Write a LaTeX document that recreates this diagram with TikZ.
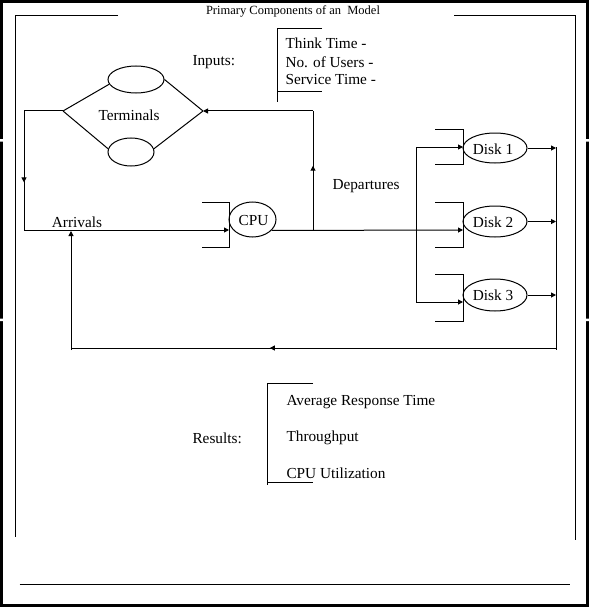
\documentclass[tikz,border=0pt]{standalone}
\usepackage{fontspec}
\setmainfont{Liberation Serif}
\usetikzlibrary{arrows.meta,shapes.geometric,decorations.markings}
\begin{document}
\begin{tikzpicture}[x=1pt,y=-1pt,line width=1pt,
  tip/.style={-{Triangle[length=5pt,width=5pt]}},
  ell/.style={draw,ellipse,inner sep=0pt},
  txt/.style={font=\fontsize{15.3}{18}\selectfont,inner sep=0pt},
  midarrow/.style={postaction={decorate},decoration={markings,mark=at position #1 with {\arrow{Triangle[length=5pt,width=5pt]}}}}]
\useasboundingbox (0,0) rectangle (589,607);
% outer frame
\draw[line width=3pt] (1.5,1.5) rectangle (587.5,605.5);
\fill[white] (0,139) rectangle (3,141.5) (0,318.5) rectangle (3,321);
\fill[white] (586,139) rectangle (589,141.5) (586,318.5) rectangle (589,321);
% inner frame
\draw (118,16) -- (15.5,16) -- (15.5,537);
\draw (454,16) -- (575.5,16) -- (575.5,540);
\draw (19.5,584) -- (570,584);
\node[inner sep=0pt,font=\fontsize{12.5}{14}\selectfont] (title) at (293,11.5) {Primary Components of an\ \ Model};
% inputs
\node[txt,anchor=west] (inputs) at (192,62) {Inputs:};
\draw (322,29) -- (277,29) -- (277,102.5);
\draw (277,92) -- (322,92);
\node[txt,anchor=west] (in1) at (285,43.5) {Think Time -};
\node[txt,anchor=west] (in2) at (285,62) {No. of Users -};
\node[txt,anchor=west] (in3) at (285,80) {Service Time -};
% terminals
\node[ell,minimum width=56pt,minimum height=27pt] (t1) at (136,79.5) {};
\node[ell,minimum width=46pt,minimum height=28pt] (t2) at (131,152) {};
\coordinate (dl) at (63,111);
\coordinate (dr) at (203,111);
\draw (dl) -- (t1.190);
\draw (t1.east) -- (dr);
\draw (dl) -- (t2.172);
\draw (t2.8) -- (dr);
\node[txt] (term) at (129,115) {Terminals};
% CPU
\node[ell,minimum width=47pt,minimum height=35pt] (cpu) at (252.5,219.5) {};
\node[txt] (cpul) at (253.5,220.5) {CPU};
\draw (202,202) -- (229,202) -- (229,247) -- (202,247);
\coordinate (cpuin) at (229,230);
\coordinate (lc1) at (24,111);
\coordinate (lc2) at (24,230);
\draw (dl) -- (lc1);
\draw[midarrow=0.6] (lc1) -- (lc2);
\draw[tip] (lc2) -- (cpuin);
\node[txt] (arr) at (77,222) {Arrivals};
% departures
\coordinate (dep0) at (313,230);
\coordinate (dep1) at (313,111);
\draw[midarrow=0.54] (dep0) -- (dep1);
\draw[tip] (dep1) -- (dr);
\node[txt,anchor=west] (deptxt) at (332,186) {Departures};
% disks
\node[ell,minimum width=64pt,minimum height=30pt] (d1) at (495,148) {};
\node[ell,minimum width=64pt,minimum height=31pt] (d2) at (495,221.5) {};
\node[ell,minimum width=64pt,minimum height=32pt] (d3) at (495,295) {};
\node[txt] (d1l) at (493,149) {Disk 1};
\node[txt] (d2l) at (493,222) {Disk 2};
\node[txt] (d3l) at (493,295.5) {Disk 3};
\draw (435,129) -- (463,129) -- (463,164) -- (435,164);
\draw (435,202) -- (463,202) -- (463,247) -- (435,247);
\draw (435,274) -- (463,274) -- (463,321) -- (435,321);
\coordinate (b1) at (416,147);
\coordinate (b3) at (416,302);
\draw (b1) -- (b3);
\draw[tip] (b1) -- (463,147);
\draw[tip] (b3) -- (463,302);
\draw[tip] (cpu.-30) -- (463,230);
% outputs
\coordinate (r1) at (556,147);
\coordinate (r2) at (556,348);
\draw[tip] (d1.east) -- (d1.east -| r1);
\draw[tip] (d2.east) -- (d2.east -| r1);
\draw[tip] (d3.east) -- (d3.east -| r1);
\draw (r1) -- (556,350);
\coordinate (l2) at (71,348);
\draw[midarrow=0.59] (r2) -- (l2);
\draw[tip] (71,350) -- (71,231);
% results
\node[txt,anchor=west] (res) at (192,438) {Results:};
\draw (313,383) -- (267,383) -- (267,485);
\draw (267,482) -- (313,482);
\node[txt,anchor=west] (r1t) at (286,402) {Average Response Time};
\node[txt,anchor=west] (r2t) at (286,438) {Throughput};
\node[txt,anchor=west] (r3t) at (286,473) {CPU Utilization};
\end{tikzpicture}
\end{document}
